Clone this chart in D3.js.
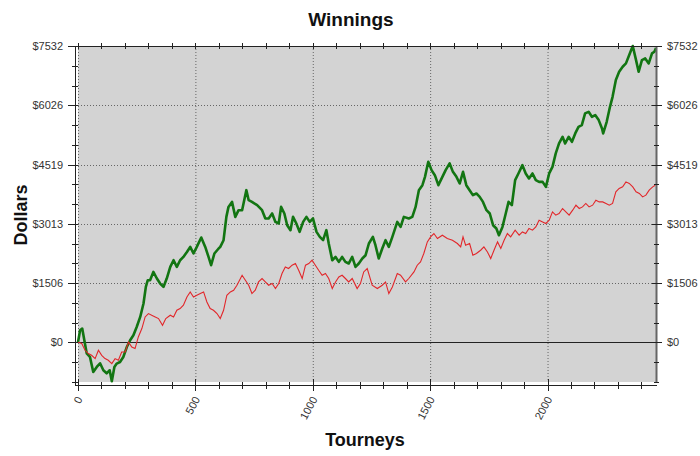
<!DOCTYPE html>
<html><head><meta charset="utf-8">
<script src="https://cdn.jsdelivr.net/npm/d3@7"></script>
<style>body{margin:0;background:#fff;}svg{display:block;}</style>
</head><body>
<svg id="c" width="700" height="456"></svg>
<script>
const title = "Winnings";
const xLabel = "Tourneys";
const yLabel = "Dollars";
const xTickValues = [0, 500, 1000, 1500, 2000];
const yMax = 7532;
const yTickLabels = ["$0", "$1506", "$3013", "$4519", "$6026", "$7532"];

const greenTourneys = [0,9,18,27,37,51,65,80,94,108,122,135,144,155,165,179,193,208,222,236,250,265,279,289,297,307,321,336,350,364,378,393,407,421,435,449,464,478,492,506,525,542,556,567,581,599,606,620,632,641,656,670,684,699,717,727,741,763,784,798,812,827,841,855,865,879,891,905,916,930,944,959,973,987,1001,1016,1030,1044,1058,1068,1083,1097,1111,1125,1139,1153,1168,1182,1196,1211,1225,1239,1256,1267,1281,1296,1310,1324,1339,1360,1374,1388,1409,1424,1438,1452,1467,1478,1492,1506,1520,1535,1549,1566,1583,1597,1612,1626,1640,1654,1668,1682,1697,1711,1725,1740,1754,1768,1782,1793,1808,1822,1834,1848,1862,1876,1893,1907,1921,1936,1950,1964,1979,1993,2007,2021,2035,2049,2064,2075,2090,2104,2118,2132,2146,2160,2175,2189,2203,2218,2232,2237,2252,2266,2277,2291,2305,2320,2334,2348,2363,2377,2388,2402,2416,2431,2445,2455,2462];
const greenDollars = [0,305,349,51,-280,-374,-756,-628,-534,-712,-789,-712,-990,-628,-542,-501,-374,-120,51,178,389,644,985,1407,1577,1577,1788,1621,1493,1407,1621,1916,2086,1916,2086,2170,2297,2424,2257,2424,2664,2424,2170,1959,2257,2384,2424,2595,3188,3442,3569,3188,3358,3358,3867,3612,3569,3485,3358,3147,3147,3274,3060,3020,3442,3274,2976,2849,3188,3020,2806,3060,3188,3060,3147,2806,2679,2595,2849,2511,2086,2170,2043,2170,2043,2002,2170,1916,2002,2129,2213,2511,2679,2468,2129,2384,2595,2424,2679,3060,2933,3188,3147,3188,3442,3867,3994,4205,4587,4376,4248,3994,4165,4376,4546,4332,4205,4037,4332,3994,3867,3740,3783,3696,3569,3358,3274,2976,2893,2722,2933,3274,3569,3485,4121,4292,4503,4292,4165,4292,4121,4078,4078,3951,4292,4460,4801,5055,5223,5055,5223,5096,5309,5477,5520,5818,5859,5732,5775,5648,5437,5309,5604,5986,6240,6665,6876,7004,7090,7301,7532,7174,6876,7174,7217,7090,7344,7385,7480];

const redTourneys = [0,16,30,44,58,73,87,101,115,129,144,158,172,186,201,215,229,243,257,272,286,300,314,329,343,360,374,393,407,421,435,449,464,478,492,506,521,535,549,563,577,592,606,620,634,649,663,677,699,713,727,741,755,769,784,798,812,827,841,855,869,883,897,912,926,940,955,969,983,997,1011,1025,1040,1054,1068,1083,1097,1111,1125,1139,1153,1168,1189,1203,1217,1232,1253,1275,1296,1310,1324,1339,1360,1374,1395,1409,1431,1445,1459,1473,1488,1502,1516,1531,1552,1573,1595,1616,1630,1640,1651,1668,1682,1697,1715,1729,1744,1758,1772,1787,1801,1815,1829,1843,1862,1879,1893,1907,1921,1936,1950,1964,1979,1993,2007,2021,2035,2049,2064,2078,2092,2107,2121,2135,2149,2163,2177,2192,2206,2220,2235,2249,2263,2277,2291,2305,2320,2334,2348,2363,2377,2391,2405,2419,2433,2448,2459];
const redDollars = [0,-33,-204,-288,-331,-415,-204,-331,-415,-458,-542,-415,-458,-247,-247,8,-120,-160,135,349,644,730,687,644,603,432,603,687,644,814,857,941,1152,1280,1152,1196,1239,1280,1025,857,814,730,603,814,1196,1280,1323,1450,1704,1577,1450,1239,1323,1534,1621,1534,1450,1493,1366,1493,1748,1916,1875,1959,2002,1832,1621,1959,2002,2086,1959,1832,1704,1748,1621,1366,1534,1661,1704,1621,1534,1621,1366,1493,1788,1875,1450,1366,1450,1534,1239,1407,1748,1704,1534,1621,1788,1959,2043,2257,2552,2679,2765,2638,2722,2638,2595,2511,2424,2679,2468,2511,2213,2257,2340,2424,2297,2129,2340,2552,2384,2595,2765,2679,2849,2722,2806,2765,2893,2849,2933,3104,3060,3020,3104,3315,3231,3274,3401,3315,3231,3358,3485,3401,3442,3529,3442,3485,3612,3569,3569,3529,3485,3529,3824,3910,3951,4078,4037,3951,3824,3783,3696,3740,3867,3951,3994];

const svg = d3.select("#c");
const L = 78, R = 656, T = 46, B = 382;
const x = d3.scaleLinear().domain([0, 2462]).range([L, R]);
const y = d3.scaleLinear().domain([-1010, yMax]).range([B, T]);
const yMajor = d3.range(6).map(i => yMax * i / 5);
const yMinor = d3.range(-2, 16).map(i => yMax * i / 15).filter(v => v >= -1010);
const xMinor = d3.range(0, 2462, 100);

svg.append("rect").attr("x", L).attr("y", T).attr("width", R - L).attr("height", B - T).attr("fill", "#d3d3d3");

// grid
const g = svg.append("g");
g.selectAll(".vg").data(xTickValues).join("line")
  .attr("x1", d => x(d) + 0.5).attr("x2", d => x(d) + 0.5).attr("y1", T).attr("y2", B)
  .attr("stroke", "#666").attr("stroke-dasharray", "1,2");
g.selectAll(".hg").data(yMajor.filter(v => v > 0)).join("line")
  .attr("x1", L).attr("x2", R).attr("y1", d => Math.round(y(d)) + 0.5).attr("y2", d => Math.round(y(d)) + 0.5)
  .attr("stroke", "#666").attr("stroke-dasharray", "1,2");
g.append("line").attr("x1", L).attr("x2", R).attr("y1", Math.round(y(0)) + 0.5).attr("y2", Math.round(y(0)) + 0.5)
  .attr("stroke", "#222").attr("stroke-width", 1);

// lines
const line = d3.line().x(d => x(d[0])).y(d => y(d[1]));
svg.append("path").datum(d3.zip(greenTourneys, greenDollars)).attr("d", line)
  .attr("fill", "none").attr("stroke", "#127512").attr("stroke-width", 2.6).attr("stroke-linejoin", "round");
svg.append("path").datum(d3.zip(redTourneys, redDollars)).attr("d", line)
  .attr("fill", "none").attr("stroke", "#e2262a").attr("stroke-width", 1.1);

// axes frame
const ax = svg.append("g").attr("stroke", "#222").attr("stroke-width", 1);
ax.append("line").attr("x1", 75.5).attr("x2", 75.5).attr("y1", T).attr("y2", B + 3);
ax.append("line").attr("x1", 75).attr("x2", R + 1).attr("y1", 385.5).attr("y2", 385.5);
ax.append("line").attr("x1", 75).attr("x2", R + 1).attr("y1", T + 0.5).attr("y2", T + 0.5);
ax.append("line").attr("x1", R + 0.5).attr("x2", R + 0.5).attr("y1", T).attr("y2", B).attr("stroke", "#666").attr("stroke-width", 2);

// left ticks
ax.selectAll(".lmin").data(yMinor).join("line")
  .attr("x1", 72).attr("x2", 78).attr("y1", d => Math.round(y(d)) + 0.5).attr("y2", d => Math.round(y(d)) + 0.5);
ax.selectAll(".lmaj").data(yMajor).join("line")
  .attr("x1", 68).attr("x2", 78).attr("y1", d => Math.round(y(d)) + 0.5).attr("y2", d => Math.round(y(d)) + 0.5);
// right ticks
ax.selectAll(".rmin").data(yMinor).join("line")
  .attr("x1", 654).attr("x2", 659).attr("y1", d => Math.round(y(d)) + 0.5).attr("y2", d => Math.round(y(d)) + 0.5);
ax.selectAll(".rmaj").data(yMajor).join("line")
  .attr("x1", 652).attr("x2", 662).attr("y1", d => Math.round(y(d)) + 0.5).attr("y2", d => Math.round(y(d)) + 0.5);
// bottom ticks
ax.selectAll(".bmin").data(xMinor).join("line")
  .attr("x1", d => Math.round(x(d)) + 0.5).attr("x2", d => Math.round(x(d)) + 0.5).attr("y1", 382).attr("y2", 389);
ax.selectAll(".bmaj").data(xTickValues).join("line")
  .attr("x1", d => Math.round(x(d)) + 0.5).attr("x2", d => Math.round(x(d)) + 0.5).attr("y1", 379).attr("y2", 391);
// top ticks
ax.selectAll(".tmin").data(xMinor).join("line")
  .attr("x1", d => Math.round(x(d)) + 0.5).attr("x2", d => Math.round(x(d)) + 0.5).attr("y1", 43).attr("y2", 49);

const font = "'Liberation Sans', Arial, sans-serif";
const lab = svg.append("g").attr("font-family", font).attr("font-size", 11).attr("fill", "#333");
lab.selectAll(".ll").data(yMajor).join("text")
  .attr("x", 63).attr("y", d => y(d) + 4).attr("text-anchor", "end").text((d, i) => yTickLabels[i]);
lab.selectAll(".rl").data(yMajor).join("text")
  .attr("x", 667).attr("y", d => y(d) + 4).attr("text-anchor", "start").text((d, i) => yTickLabels[i]);
lab.selectAll(".xl").data(xTickValues).join("text")
  .attr("transform", d => `translate(${x(d) + 5},${399}) rotate(-62)`)
  .attr("text-anchor", "end").text(d => d);

svg.append("text").attr("x", 351).attr("y", 26).attr("text-anchor", "middle")
  .attr("font-family", font).attr("font-weight", "bold").attr("font-size", 19).attr("fill", "#111").text(title);
svg.append("text").attr("x", 365).attr("y", 446).attr("text-anchor", "middle")
  .attr("font-family", font).attr("font-weight", "bold").attr("font-size", 18).attr("fill", "#111").text(xLabel);
svg.append("text").attr("transform", "translate(27,215) rotate(-90)").attr("text-anchor", "middle")
  .attr("font-family", font).attr("font-weight", "bold").attr("font-size", 18).attr("fill", "#111").text(yLabel);
</script>
</body></html>
